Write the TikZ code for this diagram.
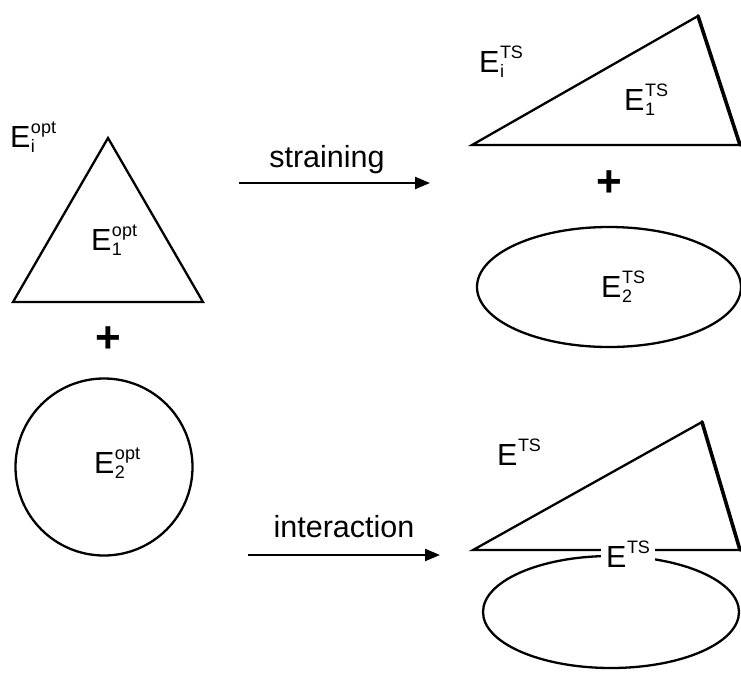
\documentclass[tikz,border=0pt]{standalone}
\usepackage{fontspec}
\setmainfont{Liberation Sans}
\usetikzlibrary{arrows.meta}
\newcommand{\bigfs}{\fontsize{30.5}{36}\selectfont}
\newcommand{\smallfs}{\fontsize{18}{20}\selectfont}
\newcommand{\Elab}[2]{E\kern0.5pt\rlap{\raisebox{-5pt}{\smallfs #1}}\raisebox{14pt}{\smallfs #2}}
\begin{document}
\begin{tikzpicture}[x=1pt,y=-1pt,line width=2.3pt,line join=miter,
  lbl/.style={inner sep=0pt,anchor=base west,font=\bigfs},
  arrlbl/.style={inner sep=0pt,anchor=base,font=\bigfs},
  plus/.style={inner sep=0pt,anchor=center,font=\fontsize{44}{44}\selectfont\bfseries},
  thickside/.style={line width=3.6pt,line cap=round},
  arr/.style={-{Triangle[length=15pt,width=12pt]}}]
\useasboundingbox (0,0) rectangle (741,672);
% left triangle
\coordinate (lA) at (13,302);
\coordinate (lB) at (203,302);
\coordinate (lC) at (108,138);
\draw (lA) -- (lB) -- (lC) -- cycle;
\node[lbl] (eiopt) at (9,147) {\Elab{i}{opt}};
\node[lbl] (e1opt) at (90,250) {\Elab{1}{opt}};
\node[plus] (plusL) at (108,340) {+};
% circle
\coordinate (cc) at (104,467);
\draw (cc) circle [radius=88.5pt];
\node[lbl] (e2opt) at (93,473) {\Elab{2}{opt}};
% arrows
\coordinate (s1) at (239,183);
\coordinate (s2) at (430,183);
\draw[arr] (s1) -- (s2);
\node[arrlbl] (strain) at (327,167) {straining};
\coordinate (i1) at (248,555);
\coordinate (i2) at (440,555);
\draw[arr] (i1) -- (i2);
\node[arrlbl] (inter) at (344,537) {interaction};
% top right triangle
\coordinate (tA) at (472,145);
\coordinate (tB) at (740,145);
\coordinate (tC) at (698,16);
\draw (tA) -- (tB) -- (tC) -- cycle;
\draw[thickside] (tB) -- (tC);
\node[lbl] (eits) at (478,72) {\Elab{i}{TS}};
\node[lbl] (e1ts) at (623,110) {\Elab{1}{TS}};
\node[plus] (plusR) at (609,184) {+};
% top right ellipse
\coordinate (ec1) at (609,287);
\draw (ec1) ellipse [x radius=132pt,y radius=60pt];
\node[lbl] (e2ts) at (600,297) {\Elab{2}{TS}};
% bottom right
\coordinate (bA) at (473,550);
\coordinate (bB) at (740,550);
\coordinate (bC) at (702,422);
\draw (bA) -- (bB) -- (bC) -- cycle;
\draw[thickside] (bB) -- (bC);
\coordinate (ec2) at (611,612);
\draw (ec2) ellipse [x radius=128pt,y radius=56pt];
\node[lbl] (ets) at (496,465) {\Elab{}{TS}};
\node[lbl,fill=white,inner xsep=5pt,inner ysep=1pt] (etsmid) at (600,567) {\Elab{}{TS}};
\end{tikzpicture}
\end{document}
